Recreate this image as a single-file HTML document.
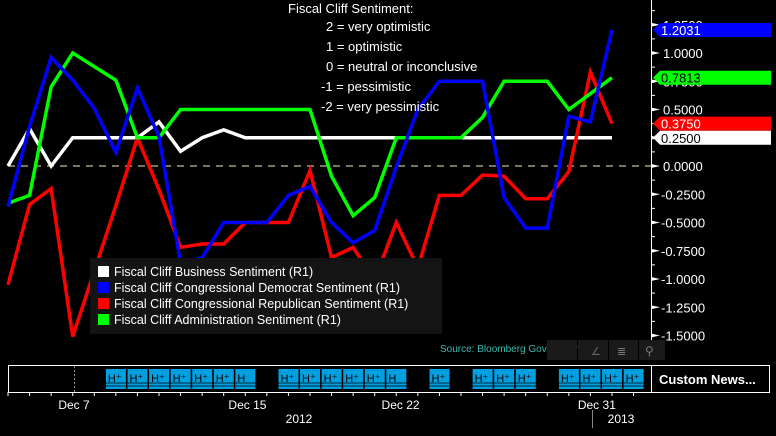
<!DOCTYPE html>
<html><head><meta charset="utf-8"><style>
body{margin:0;background:#000;width:776px;height:436px;overflow:hidden;font-family:"Liberation Sans",sans-serif}
svg{display:block}
</style></head><body>
<svg id="c" width="776" height="436">
<rect width="776" height="436" fill="#000"/>
<g id="grid"></g>
<g id="series"></g>
<g id="axis"></g>
<g fill="#fff" font-size="13">
<text x="288" y="13">Fiscal Cliff Sentiment:</text>
<text x="326" y="31">2 = very optimistic</text>
<text x="326" y="51">1 = optimistic</text>
<text x="326" y="71">0 = neutral or inconclusive</text>
<text x="321" y="91">-1 = pessimistic</text>
<text x="321" y="111">-2 = very pessimistic</text>
</g>
<g>
<rect x="90" y="258" width="352" height="76" fill="#141414"/>
<g id="legend" font-size="12.5" fill="#fff"></g>
</g>
<text x="440" y="352" fill="#3bb8b0" font-size="10">Source: Bloomberg Government</text>
<g>
<rect x="547" y="340" width="30" height="20" fill="#1a1a1a"/>
<rect x="578" y="340" width="30" height="20" fill="#1a1a1a"/>
<rect x="609" y="340" width="29" height="20" fill="#1a1a1a"/>
<rect x="639" y="340" width="26" height="20" fill="#1a1a1a"/>
<text x="591" y="355" fill="#666" font-size="11">∠</text>
<text x="617" y="355" fill="#777" font-size="11">≣</text>
<text x="645" y="355" fill="#777" font-size="12">⚲</text>
</g>
<rect x="8.5" y="365.5" width="761" height="27" fill="none" stroke="#fff"/>
<line x1="651.5" y1="365" x2="651.5" y2="392" stroke="#fff"/>
<text x="659" y="384" fill="#fff" font-size="13" font-weight="bold">Custom News...</text>
<line x1="74.5" y1="366" x2="74.5" y2="392" stroke="#888" stroke-dasharray="2,2"/>
<g id="news"></g>
<g id="xaxis" fill="#fff" font-size="12"></g>
</svg>
<script>
const categories = ["Dec 4","Dec 5","Dec 6","Dec 7","Dec 8","Dec 9","Dec 10","Dec 11","Dec 12","Dec 13","Dec 14","Dec 15","Dec 16","Dec 17","Dec 18","Dec 19","Dec 20","Dec 21","Dec 22","Dec 23","Dec 24","Dec 25","Dec 26","Dec 27","Dec 28","Dec 29","Dec 30","Dec 31","Jan 1"];
const business = [0,0.33,0,0.25,0.25,0.25,0.25,0.39,0.13,0.25,0.32,0.25,0.25,0.25,0.25,0.25,0.25,0.25,0.25,0.25,0.25,0.25,0.25,0.25,0.25,0.25,0.25,0.25,0.25];
const democrat = [-0.36,0.35,0.96,0.76,0.51,0.12,0.69,0.26,-0.86,-0.81,-0.5,-0.5,-0.5,-0.26,-0.18,-0.5,-0.68,-0.57,-0.01,0.5,0.75,0.75,0.75,-0.28,-0.55,-0.55,0.44,0.39,1.2031];
const republican = [-1.05,-0.34,-0.2,-1.51,-0.93,-0.35,0.25,-0.21,-0.72,-0.69,-0.69,-0.5,-0.5,-0.5,-0.04,-0.81,-0.72,-1.01,-0.5,-0.9,-0.26,-0.26,-0.08,-0.09,-0.29,-0.29,-0.05,0.83,0.375];
const admin = [-0.33,-0.26,0.7,1.0,0.88,0.76,0.25,0.25,0.5,0.5,0.5,0.5,0.5,0.5,0.5,-0.09,-0.44,-0.28,0.25,0.25,0.25,0.25,0.43,0.75,0.75,0.75,0.5,0.64,0.7813];
const yTicks = [1.25,1.0,0.75,0.5,0.25,0,-0.25,-0.5,-0.75,-1.0,-1.25,-1.5];
const seriesNames = ["Fiscal Cliff Business Sentiment (R1)","Fiscal Cliff Congressional Democrat Sentiment  (R1)","Fiscal Cliff Congressional Republican Sentiment (R1)","Fiscal Cliff Administration Sentiment (R1)"];
const colors = ["#fff","#0000ff","#ff0000","#00ff00"];
const dateLabels = ["Dec 7","Dec 15","Dec 22","Dec 31"];
const dateIdx = [3.06,11.1,18.2,27.3];
const newsIdx = [5.05,6.05,7.05,8.05,9.05,10.05,11.05,13.05,14.05,15.05,16.05,17.05,18.05,20.05,22.05,23.05,24.05,26.05,27.05,28.05,29.05];
const newsPlus = [1,1,1,1,1,1,0,1,1,1,1,1,0,1,1,1,1,1,1,1,1];

const NS="http://www.w3.org/2000/svg";
const X = i => 8 + i*21.57;
const Y = v => 166 - v*113;
function mk(t,a,p){const e=document.createElementNS(NS,t);for(const k in a)e.setAttribute(k,a[k]);p.appendChild(e);return e;}
const grid=document.getElementById('grid'), ser=document.getElementById('series'), ax=document.getElementById('axis');
mk('line',{x1:8,x2:651,y1:Y(0),y2:Y(0),stroke:'#f0f0b0','stroke-dasharray':'7,6'},grid);
[business,republican,admin,democrat].forEach((d,k)=>{
  const col=[colors[0],colors[2],colors[3],colors[1]][k];
  const nm=['business-line','republican-line','administration-line','democrat-line'][k];
  const p=mk('polyline',{points:d.map((v,i)=>X(i)+','+Y(v)).join(' '),fill:'none',stroke:col,'stroke-width':3.5,'stroke-linejoin':'miter'},ser);
  
  
});
mk('line',{x1:651.5,x2:651.5,y1:0,y2:360,stroke:'#fff'},ax);
for(let v=1.375;v>=-1.625;v-=0.125){mk('line',{x1:651,x2:655,y1:Y(v),y2:Y(v),stroke:'#fff'},ax);}
yTicks.forEach(v=>{
  mk('polygon',{points:`651,${Y(v)-2} 660,${Y(v)} 651,${Y(v)+2}`,fill:'#fff'},ax);
  const t=mk('text',{x:v<0?661:663,y:Y(v)+5,fill:'#fff','font-size':13},ax);
  t.textContent=(v<0?'-':'')+Math.abs(v).toFixed(4);
  
  
});
const lastVals=[democrat[28],admin[28],republican[28],business[28]], lastCols=[colors[1],colors[3],colors[2],colors[0]], txtCols=['#fff','#000','#fff','#000'];
lastVals.forEach((v,k)=>{
  const y=Y(v);
  mk('polygon',{points:`653,${y} 660,${y-7} 771,${y-7} 771,${y+7} 660,${y+7}`,fill:lastCols[k]},ax);
  const t=mk('text',{x:661,y:y+5,fill:txtCols[k],'font-size':13},ax);
  t.textContent=v.toFixed(4);
  
  
});
const lg=document.getElementById('legend');
seriesNames.forEach((n,k)=>{
  mk('rect',{x:98,y:266+k*16,width:11,height:11,fill:colors[k]},lg);
  const t=mk('text',{x:114,y:276+k*16},lg);
  t.textContent=n;
  
  
});
const news=document.getElementById('news');
newsIdx.forEach((d,k)=>{
  const x=X(d)-11;
  const r=mk('rect',{x:x,y:369,width:20,height:20,fill:'#00a0e0'},news);
  
  
  mk('line',{x1:x,x2:x+20,y1:383,y2:383,stroke:'#000','stroke-width':0.8},news);
  mk('line',{x1:x,x2:x+20,y1:386,y2:386,stroke:'#000','stroke-width':0.8},news);
  const t=mk('text',{x:x+2,y:382,fill:'#000','font-size':11},news);
  t.textContent='H'+(newsPlus[k]?'⁺':'');
});
const xa=document.getElementById('xaxis');
mk('line',{x1:8,x2:651,y1:392.5,y2:392.5,stroke:'#fff'},xa);
for(let i=0;i<=29;i++){mk('line',{x1:X(i),x2:X(i),y1:392,y2:396,stroke:'#fff'},xa);}
dateLabels.forEach((l,k)=>{
  const t=mk('text',{x:X(dateIdx[k]),y:409,'text-anchor':'middle'},xa);
  t.textContent=l;
  
  
});
mk('line',{x1:592.5,x2:592.5,y1:410,y2:428,stroke:'#888'},xa);
const y1=mk('text',{x:299,y:423,'text-anchor':'middle'},xa);y1.textContent='2012';
const y2=mk('text',{x:621,y:423,'text-anchor':'middle'},xa);y2.textContent='2013';
</script>
</body></html>
